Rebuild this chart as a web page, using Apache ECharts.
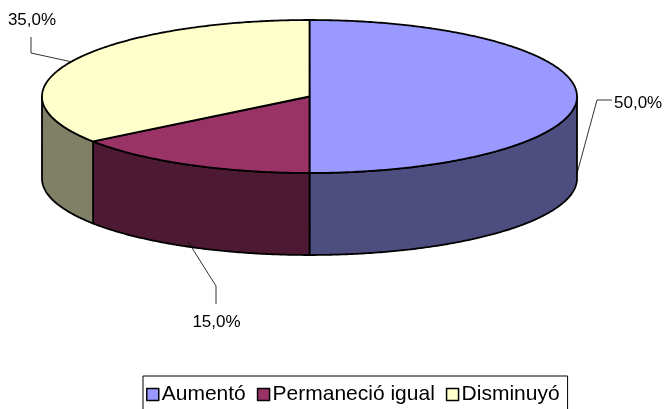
<!DOCTYPE html>
<html>
<head>
<meta charset="utf-8">
<script src="https://cdn.jsdelivr.net/npm/echarts@6/dist/echarts.min.js"></script>
<style>html,body{margin:0;padding:0;background:#fff}#c{width:667px;height:409px}</style>
</head>
<body>
<div id="c"></div>
<script>
// ---- data ----
const categories = ['Aumentó', 'Permaneció igual', 'Disminuyó'];
const values = [50, 15, 35];
const topColors = ['#9999FF', '#993366', '#FFFFCC'];
const sideColors = ['#4D4D80', '#4D1933', '#808066'];

// ---- layout ----
const geo = { cx: 309.5, cy: 96.5, rx: 267.5, ry: 76.5, depth: 82 };
const labelLayout = [
  { elbow: [597, 100], end: [612, 100], text: [614, 103], align: 'left' },
  { elbow: [216, 286], end: [216, 304], text: [216.5, 322], align: 'center' },
  { elbow: [31, 53], end: [31, 37], text: [32, 20], align: 'center' }
];
const FONT = '"Liberation Sans", Arial, sans-serif';

const total = values.reduce((a, b) => a + b, 0);
const starts = [];
{ let acc = 0; values.forEach(v => { starts.push(acc / total * Math.PI * 2); acc += v; }); }

function pt(t, dy) {
  return [geo.cx + geo.rx * Math.sin(t), geo.cy - geo.ry * Math.cos(t) + (dy || 0)];
}
function arc(a, b, dy) {
  const n = Math.max(2, Math.ceil(Math.abs(b - a) / 0.01));
  const out = [];
  for (let i = 0; i <= n; i++) out.push(pt(a + (b - a) * i / n, dy));
  return out;
}
const stroke = { stroke: '#000', lineWidth: 1.8, lineJoin: 'round' };

function renderItem(params, api) {
  const i = params.dataIndex;
  const v = api.value(0);
  const a = starts[i];
  const b = a + v / total * Math.PI * 2;
  const children = [];
  // side wall (front half only)
  const sa = Math.max(a, Math.PI / 2), sb = Math.min(b, Math.PI * 1.5);
  if (sb > sa) {
    const topE = arc(sa, sb, 0);
    const botE = arc(sb, sa, geo.depth);
    children.push({
      type: 'polygon', z2: 1,
      shape: { points: topE.concat(botE) },
      style: Object.assign({ fill: sideColors[i] }, stroke)
    });
  }
  // top face
  children.push({
    type: 'polygon', z2: 2,
    shape: { points: [[geo.cx, geo.cy]].concat(arc(a, b, 0)) },
    style: Object.assign({ fill: topColors[i] }, stroke)
  });
  // label with leader
  const m = (a + b) / 2;
  const front = Math.cos(m) < 1e-6;
  const s = pt(m, front ? geo.depth - 5 : 0);
  const L = labelLayout[i];
  children.push({
    type: 'polyline', z2: 3,
    shape: { points: [s, L.elbow, L.end] },
    style: { stroke: '#000', lineWidth: 0.8, fill: null }
  });
  const pct = (v / total * 100).toFixed(1).replace('.', ',') + '%';
  children.push({
    type: 'text', z2: 3,
    x: L.text[0], y: L.text[1],
    style: { text: pct, fill: '#000', font: '17px ' + FONT, align: L.align, verticalAlign: 'middle' }
  });
  return { type: 'group', children: children };
}

const chart = echarts.init(document.getElementById('c'), null, { renderer: 'canvas' });
chart.setOption({
  animation: false,
  backgroundColor: '#fff',
  legend: {
    left: 143, top: 376,
    orient: 'horizontal',
    icon: 'rect',
    itemWidth: 12, itemHeight: 12, itemGap: 11,
    padding: [8, 8, 8, 3],
    borderColor: '#000', borderWidth: 1,
    itemStyle: { borderColor: '#000', borderWidth: 1.5 },
    textStyle: { fontSize: 21, fontFamily: FONT, color: '#000', padding: [0, 0, 0, -2] },
    data: categories
  },
  series: [
    {
      type: 'custom',
      coordinateSystem: 'none',
      renderItem: renderItem,
      silent: true,
      data: values.map((v, i) => ({ name: categories[i], value: [v] }))
    },
    {
      type: 'pie',
      radius: [0, 0],
      center: [-100, -100],
      silent: true,
      label: { show: false },
      labelLine: { show: false },
      data: values.map((v, i) => ({ name: categories[i], value: v, itemStyle: { color: topColors[i] } }))
    }
  ]
});
</script>
</body>
</html>
